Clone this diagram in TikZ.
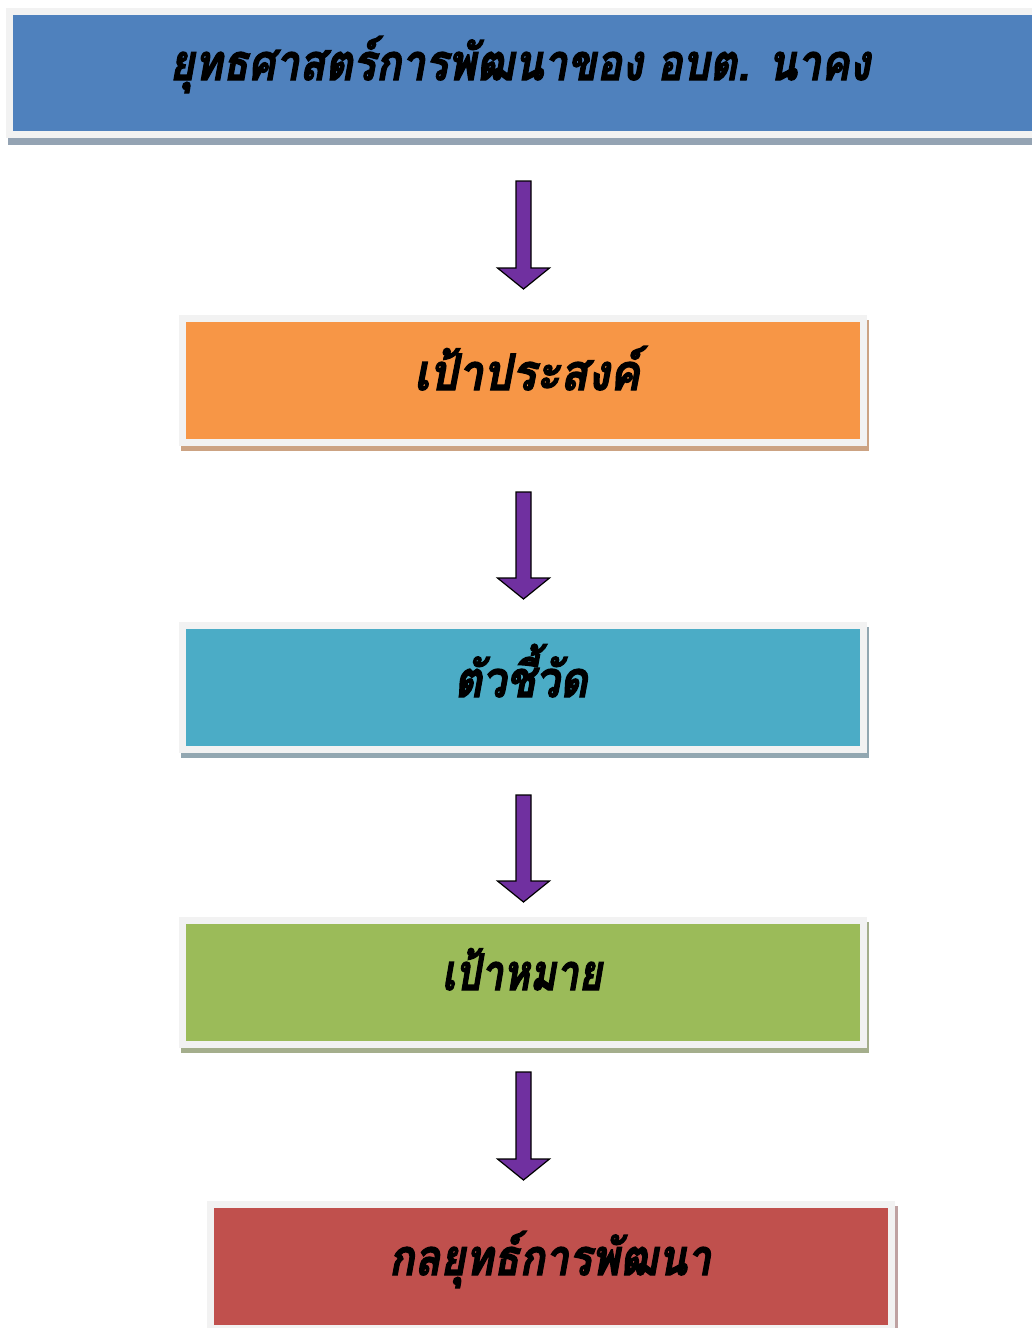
\documentclass[tikz,border=0pt]{standalone}
\usepackage{fontspec}
\newfontfamily\thaifont[Script=Thai, BoldItalicFeatures={FakeBold=2.5}]{Loma}
\usetikzlibrary{calc,backgrounds}
\definecolor{frameC}{HTML}{F2F2F2}
\definecolor{blueC}{HTML}{4F81BD}
\definecolor{orangeC}{HTML}{F79646}
\definecolor{tealC}{HTML}{4BACC6}
\definecolor{greenC}{HTML}{9BBB59}
\definecolor{redC}{HTML}{C0504D}
\definecolor{shBlue}{HTML}{94A3B3}
\definecolor{shOrange}{HTML}{CCA383}
\definecolor{shTeal}{HTML}{92A7B1}
\definecolor{shGreen}{HTML}{A4AE8C}
\definecolor{shRed}{HTML}{BFA2A2}
\definecolor{arrowC}{HTML}{7030A0}
\tikzset{
  boxnode/.style={draw=frameC, line width=7pt, minimum width=681pt, minimum height=124pt, inner sep=0pt, outer sep=0pt},
  label text/.style={font=\thaifont\fontsize{50}{54}\selectfont\bfseries\itshape, text=black, inner sep=0pt, anchor=base},
  blockarrow/.style={fill=arrowC, draw=black, line width=1.2pt, line join=miter},
}
\newcommand\blockarr[2]{%
  \draw[blockarrow] ($(#1)+(-7.5,0)$) -- ($(#1)+(7.5,0)$) -- ($(#2)+(7.5,-21)$) -- ($(#2)+(26,-21)$) -- (#2) -- ($(#2)+(-26,-21)$) -- ($(#2)+(-7.5,-21)$) -- cycle;}
\begin{document}
\begin{tikzpicture}[x=1pt,y=-1pt]
\useasboundingbox (0,0) rectangle (1032,1328);
% boxes
\node[boxnode, fill=blueC, minimum width=1064pt, minimum height=123pt] (t) at (541.5,73) {};
\node[boxnode, fill=orangeC] (b2) at (522.5,380.5) {};
\node[boxnode, fill=tealC] (b3) at (522.5,687.5) {};
\node[boxnode, fill=greenC] (b4) at (522.5,982.5) {};
\node[boxnode, fill=redC] (b5) at (550.5,1266.5) {};
% shadows
\begin{scope}[on background layer]
\fill[white] (0,0) rectangle (1032,1328);
\fill[shBlue] ($(t.north west)+(-1.5,3.5)$) rectangle ($(t.south east)+(5.5,10.5)$);
\fill[shOrange] ($(b2.north west)+(-1,1.5)$) rectangle ($(b2.south east)+(6,8.5)$);
\fill[shTeal] ($(b3.north west)+(-1,1.5)$) rectangle ($(b3.south east)+(6,8.5)$);
\fill[shGreen] ($(b4.north west)+(-1,1.5)$) rectangle ($(b4.south east)+(6,8.5)$);
\fill[shRed] ($(b5.north west)+(-1,1.5)$) rectangle ($(b5.south east)+(7,8.5)$);
\end{scope}
% texts
\node[label text, xscale=0.85] (tt) at (520,80) {ยุทธศาสตร์การพัฒนาของ อบต. นาคง};
\node[label text, xscale=0.9] (t2) at (527,390) {เป้าประสงค์};
\node[label text, xscale=0.86] (t3) at (521,697) {ตัวชี้วัด};
\node[label text, xscale=0.8] (t4) at (522,990) {เป้าหมาย};
\node[label text, xscale=0.85] (t5) at (550,1275) {กลยุทธ์การพัฒนา};
% arrows
\coordinate (a1s) at (523.5,181); \coordinate (a1e) at (523.5,289);
\coordinate (a2s) at (523.5,492); \coordinate (a2e) at (523.5,599);
\coordinate (a3s) at (523.5,795); \coordinate (a3e) at (523.5,902);
\coordinate (a4s) at (523.5,1072); \coordinate (a4e) at (523.5,1180);
\blockarr{a1s}{a1e}
\blockarr{a2s}{a2e}
\blockarr{a3s}{a3e}
\blockarr{a4s}{a4e}
\end{tikzpicture}
\end{document}
